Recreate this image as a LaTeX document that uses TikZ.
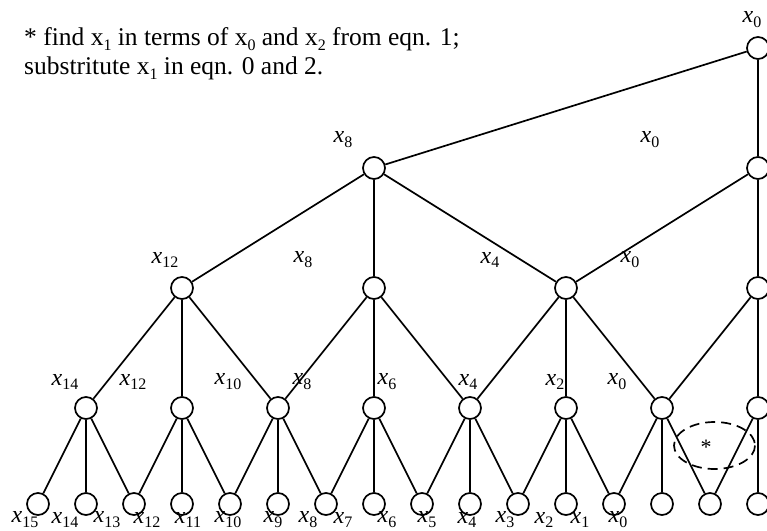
\documentclass[tikz,border=0pt]{standalone}
\usepackage{fontspec}
\setmainfont{Liberation Serif}
\usepackage{tikz}
\usetikzlibrary{positioning}

% variable with lowered index: italic for the tree labels, upright for the note
\newcommand{\xv}[1]{\textit{x}\raisebox{-0.45ex}{\fontsize{16}{16}\selectfont #1}}
\newcommand{\xu}[1]{x\raisebox{-0.45ex}{\fontsize{16}{16}\selectfont #1}}

\tikzset{
  vtx/.style={circle, draw, line width=1.7pt, fill=white, minimum size=22pt, inner sep=0pt},
  lbl/.style={inner sep=0pt, font=\fontsize{24}{28}\selectfont},
  note/.style={inner sep=0pt, anchor=base west, font=\fontsize{25.5}{30}\selectfont},
  edge/.style={line width=1.7pt},
}

\begin{document}
\begin{tikzpicture}[x=1pt, y=-1pt]
  \useasboundingbox (0,0) rectangle (767,530);

  % Note
  \node[note] (note1) at (24,45) {* find \xu{1} in terms of \xu{0} and \xu{2} from eqn. 1;};
  \node[note] (note2) at (24,74) {substritute \xu{1} in eqn. 0 and 2.};

  % Leaves
  \foreach \i in {0,...,15}
    \node[vtx] (l\i) at (38+48*\i,504) {};
  % Level 3
  \foreach \i in {1,3,...,15}
    \node[vtx] (a\i) at (38+48*\i,408) {};
  % Level 2
  \foreach \i in {3,7,11,15}
    \node[vtx] (b\i) at (38+48*\i,288) {};
  % Level 1
  \node[vtx] (c7)  at (374,168) {};
  \node[vtx] (c15) at (758,168) {};
  % Root
  \node[vtx] (r) at (758,48) {};

  % Edges level 3 -> leaves
  \foreach \i/\j/\k in {1/0/2, 3/2/4, 5/4/6, 7/6/8, 9/8/10, 11/10/12, 13/12/14}
    \draw[edge] (a\i) -- (l\j) (a\i) -- (l\i) (a\i) -- (l\k);
  \draw[edge] (a15) -- (l14) (a15) -- (l15);
  % Edges level 2 -> level 3
  \foreach \i/\j/\k in {3/1/5, 7/5/9, 11/9/13}
    \draw[edge] (b\i) -- (a\j) (b\i) -- (a\i) (b\i) -- (a\k);
  \draw[edge] (b15) -- (a13) (b15) -- (a15);
  % Edges level 1 -> level 2
  \draw[edge] (c7) -- (b3) (c7) -- (b7) (c7) -- (b11);
  \draw[edge] (c15) -- (b11) (c15) -- (b15);
  % Root
  \draw[edge] (r) -- (c7) (r) -- (c15);

  % Dashed region
  \draw[line width=1.7pt, dash pattern=on 10pt off 6pt] (714.5,445.5) ellipse (40.5 and 23.5);
  \node[inner sep=0pt, font=\fontsize{22}{22}\selectfont] (star) at (706,447) {*};

  % Labels
  \node[lbl] (r-lab) at (752,20) {\xv{0}};
  \node[lbl] (c7-lab)  at (343,140) {\xv{8}};
  \node[lbl] (c15-lab) at (650,140) {\xv{0}};
  \foreach \x/\s in {165/12, 303/8, 490/4, 630/0}
    \node[lbl] (b-lab-\s) at (\x,260) {\xv{\s}};
  \foreach \x/\s in {65/14, 133/12, 228/10, 302/8, 387/6, 468/4, 555/2, 617/0}
    \node[lbl] (a-lab-\s) at (\x,382) {\xv{\s}};
  \foreach \x/\s in {25/15, 65/14, 107/13, 147/12, 188/11, 228/10, 273/9, 308/8,
                     343/7, 387/6, 427/5, 467/4, 505/3, 544/2, 580/1, 618/0}
    \node[lbl] (l-lab-\s) at (\x,520) {\xv{\s}};
\end{tikzpicture}
\end{document}
